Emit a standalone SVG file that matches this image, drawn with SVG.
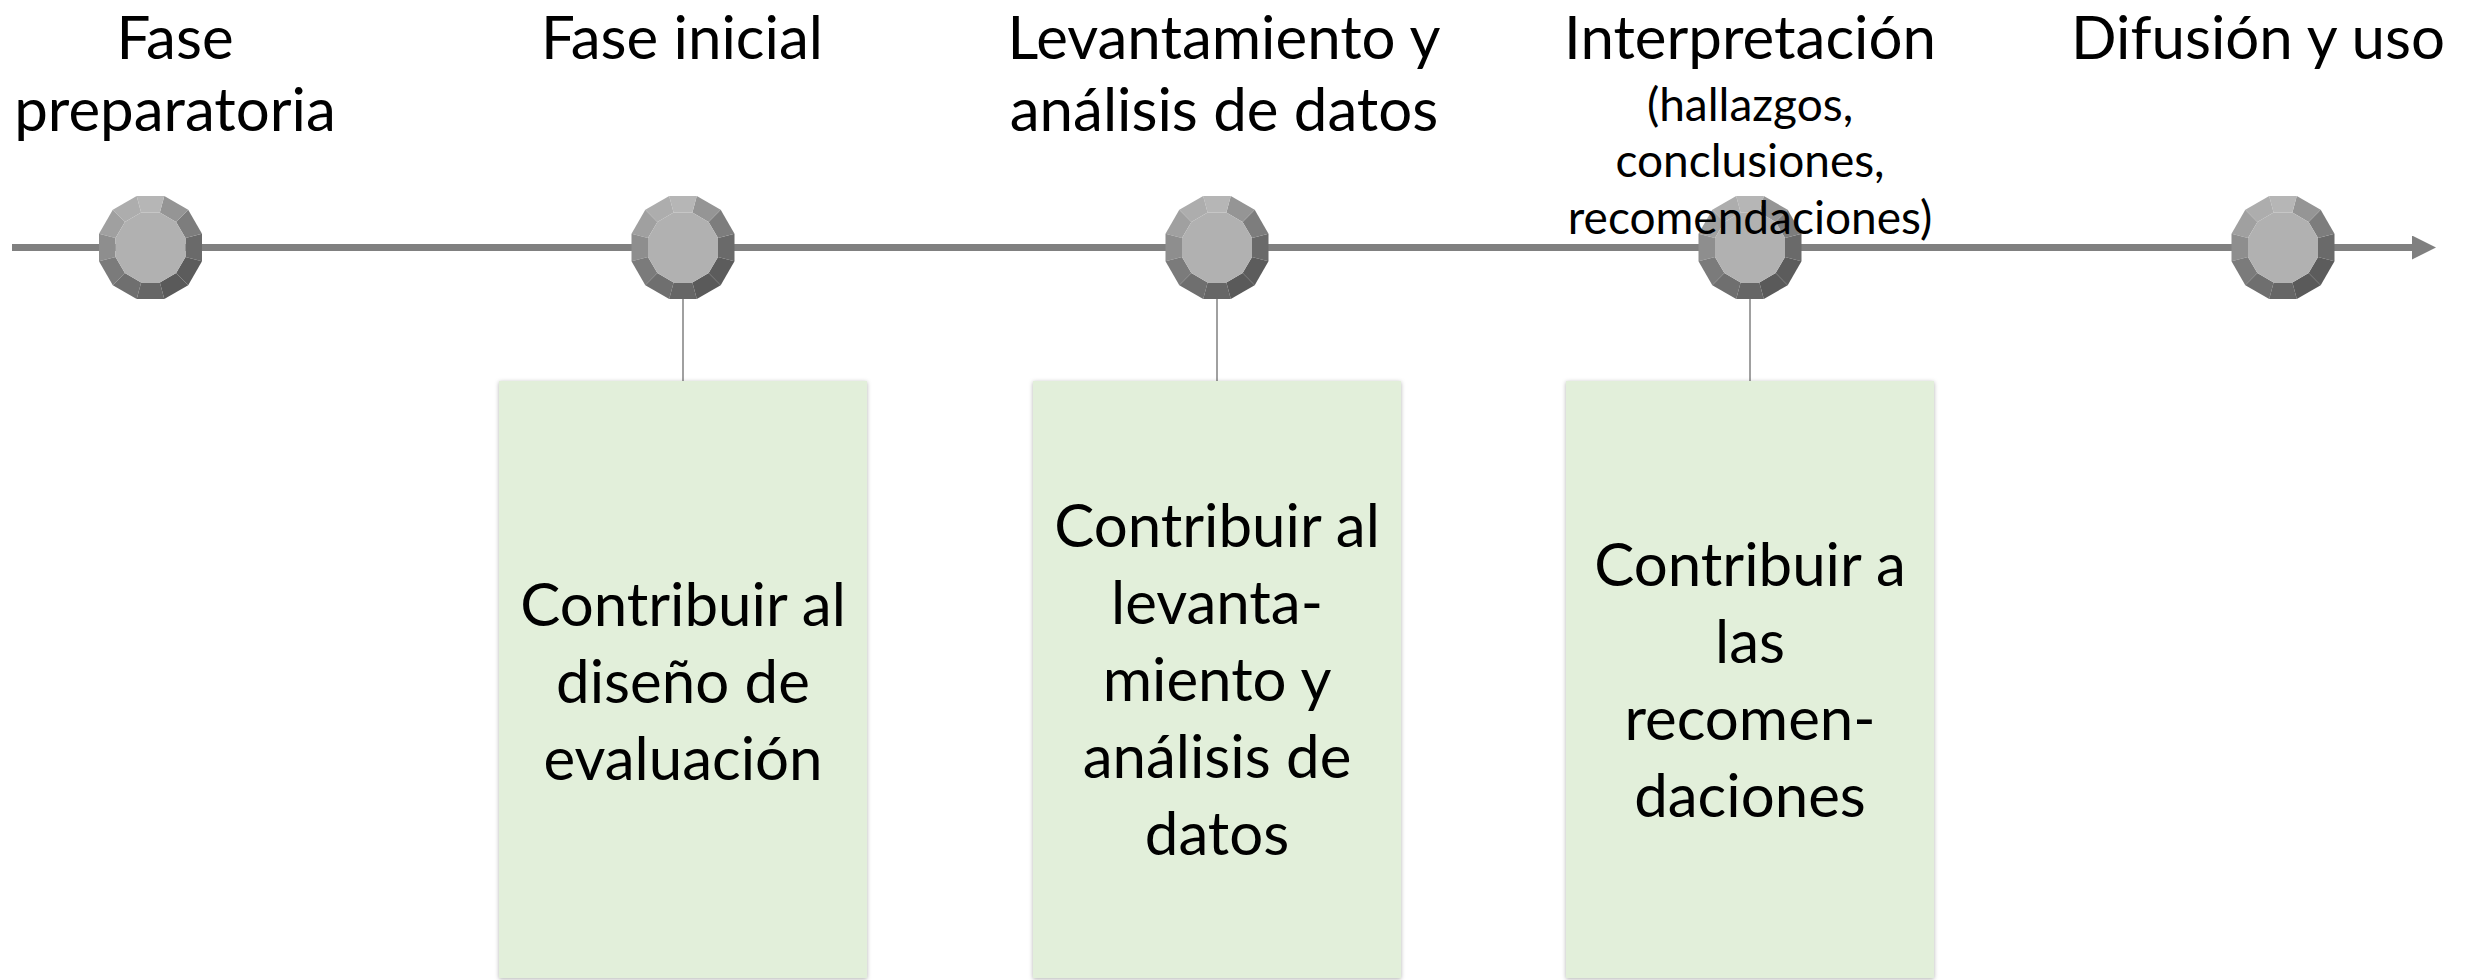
<svg xmlns="http://www.w3.org/2000/svg" xmlns:xlink="http://www.w3.org/1999/xlink" width="2468" height="980" viewBox="0 0 2468 980">
<style>
.lbl{font-family:Lato,"Liberation Sans",sans-serif;font-size:60px;fill:#000;text-anchor:middle}
.sub{font-family:Lato,"Liberation Sans",sans-serif;font-size:46px;fill:#000;text-anchor:middle}
.box{fill:#e2efda;filter:url(#sh)}
.tick{stroke:#808080;stroke-width:1.5;fill:none}
.axis{stroke:#808080;stroke-width:7;fill:none}
</style>
<defs>
<filter id="sh" x="-5%" y="-5%" width="110%" height="110%">
<feDropShadow dx="0" dy="1" stdDeviation="2" flood-color="#000" flood-opacity="0.3"/>
</filter>
<marker id="arr" markerUnits="userSpaceOnUse" markerWidth="24" markerHeight="24" refX="0" refY="12" orient="auto">
<path d="M0,0 L24,12 L0,24 z" fill="#808080"/>
</marker>
<g id="gem">
<polygon points="51.5,13.8 51.5,-13.8 35,-9.38 35,9.38" fill="#6a6a6a"/>
<polygon points="51.5,-13.8 37.7,-37.7 25.62,-25.62 35,-9.38" fill="#7d7d7d"/>
<polygon points="37.7,-37.7 13.8,-51.5 9.38,-35 25.62,-25.62" fill="#959595"/>
<polygon points="13.8,-51.5 -13.8,-51.5 -9.38,-35 9.38,-35" fill="#b6b6b6"/>
<polygon points="-13.8,-51.5 -37.7,-37.7 -25.62,-25.62 -9.38,-35" fill="#adadad"/>
<polygon points="-37.7,-37.7 -51.5,-13.8 -35,-9.38 -25.62,-25.62" fill="#a0a0a0"/>
<polygon points="-51.5,-13.8 -51.5,13.8 -35,9.38 -35,-9.38" fill="#8e8e8e"/>
<polygon points="-51.5,13.8 -37.7,37.7 -25.62,25.62 -35,9.38" fill="#7b7b7b"/>
<polygon points="-37.7,37.7 -13.8,51.5 -9.38,35 -25.62,25.62" fill="#6f6f6f"/>
<polygon points="-13.8,51.5 13.8,51.5 9.38,35 -9.38,35" fill="#666666"/>
<polygon points="13.8,51.5 37.7,37.7 25.62,25.62 9.38,35" fill="#5a5a5a"/>
<polygon points="37.7,37.7 51.5,13.8 35,9.38 25.62,25.62" fill="#5c5c5c"/>
<polygon points="35,9.38 35,-9.38 25.62,-25.62 9.38,-35 -9.38,-35 -25.62,-25.62 -35,-9.38 -35,9.38 -25.62,25.62 -9.38,35 9.38,35 25.62,25.62" fill="#b1b1b1"/>
</g>
</defs>
<rect width="2468" height="980" fill="#fff"/>
<g id="connectors">
<line class="axis" x1="12" y1="247.5" x2="2412" y2="247.5" marker-end="url(#arr)"/>
<line class="tick" x1="683" y1="299" x2="683" y2="381"/>
<line class="tick" x1="1217" y1="299" x2="1217" y2="381"/>
<line class="tick" x1="1750" y1="299" x2="1750" y2="381"/>
</g>
<g id="node-preparatoria"><use xlink:href="#gem" href="#gem" x="150.5" y="247.5"/></g>
<g id="node-inicial"><use xlink:href="#gem" href="#gem" x="683" y="247.5"/></g>
<g id="node-levantamiento"><use xlink:href="#gem" href="#gem" x="1217" y="247.5"/></g>
<g id="node-interpretacion"><use xlink:href="#gem" href="#gem" x="1750" y="247.5"/></g>
<g id="node-difusion"><use xlink:href="#gem" href="#gem" x="2283" y="247.5"/></g>
<g id="box-diseno">
<rect class="box" x="499" y="381" width="368" height="597"/>
<text class="lbl" x="683" y="626">Contribuir al</text>
<text class="lbl" x="683" y="703">diseño de</text>
<text class="lbl" x="683" y="780">evaluación</text>
</g>
<g id="box-levantamiento">
<rect class="box" x="1033" y="381" width="368" height="597"/>
<text class="lbl" x="1217" y="547">Contribuir al</text>
<text class="lbl" x="1217" y="624">levanta-</text>
<text class="lbl" x="1217" y="701">miento y</text>
<text class="lbl" x="1217" y="778">análisis de</text>
<text class="lbl" x="1217" y="855">datos</text>
</g>
<g id="box-recomendaciones">
<rect class="box" x="1566" y="381" width="368" height="597"/>
<text class="lbl" x="1750" y="586">Contribuir a</text>
<text class="lbl" x="1750" y="663">las</text>
<text class="lbl" x="1750" y="740">recomen-</text>
<text class="lbl" x="1750" y="817">daciones</text>
</g>
<g id="label-preparatoria">
<text class="lbl" x="175" y="59">Fase</text>
<text class="lbl" x="175" y="131">preparatoria</text>
</g>
<g id="label-inicial">
<text class="lbl" x="682" y="59">Fase inicial</text>
</g>
<g id="label-levantamiento">
<text class="lbl" x="1224" y="59">Levantamiento y</text>
<text class="lbl" x="1224" y="131">análisis de datos</text>
</g>
<g id="label-interpretacion">
<text class="lbl" x="1750" y="59">Interpretación</text>
<text class="sub" x="1750" y="121">(hallazgos,</text>
<text class="sub" x="1750" y="177">conclusiones,</text>
<text class="sub" x="1750" y="234">recomendaciones)</text>
</g>
<g id="label-difusion">
<text class="lbl" x="2258" y="59">Difusión y uso</text>
</g>
</svg>
